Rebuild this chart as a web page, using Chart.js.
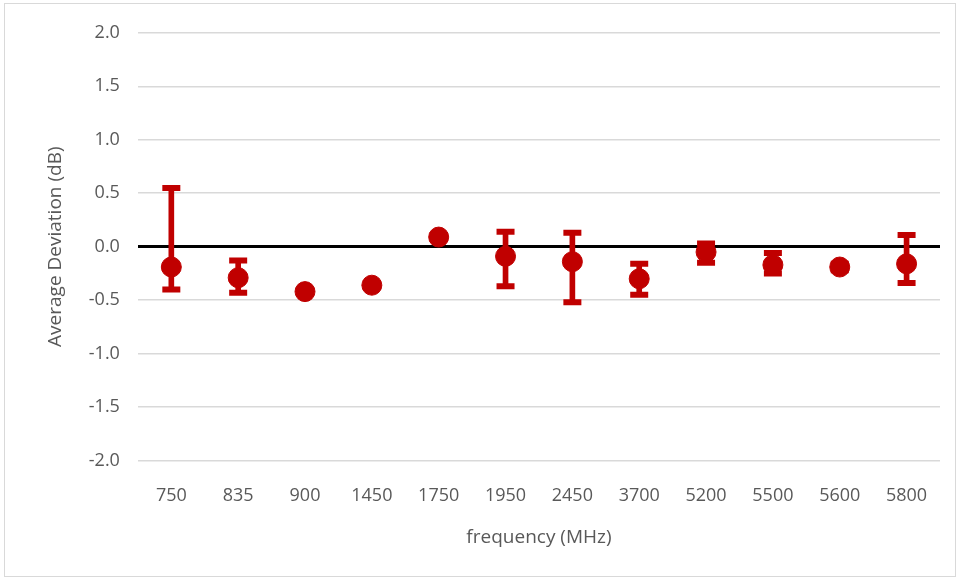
<!DOCTYPE html>
<html>
<head>
<meta charset="utf-8">
<script src="https://cdn.jsdelivr.net/npm/chart.js@4.4.1/dist/chart.umd.min.js"></script>
<style>
  body { margin: 0; background: #fff; }
  #wrap { position: absolute; left: 4px; top: 3px; width: 950px; height: 572px; border: 1px solid #d9d9d9; }
</style>
</head>
<body>
<div id="wrap"><canvas id="chart"></canvas></div>
<script>
var frequencies = ['750', '835', '900', '1450', '1750', '1950', '2450', '3700', '5200', '5500', '5600', '5800'];
var deviation = [-0.19, -0.29, -0.42, -0.36, 0.09, -0.09, -0.14, -0.30, -0.05, -0.17, -0.19, -0.16];
var errHigh = [0.55, -0.13, -0.41, -0.34, 0.11, 0.14, 0.13, -0.16, 0.03, -0.06, -0.16, 0.11];
var errLow = [-0.40, -0.43, -0.43, -0.38, 0.07, -0.37, -0.52, -0.45, -0.15, -0.25, -0.22, -0.34];
var yTicks = [2.0, 1.5, 1.0, 0.5, 0.0, -0.5, -1.0, -1.5, -2.0];

var red = '#c00000';
var font = { family: 'Open Sans', size: 18 };

var ctx = document.getElementById('chart').getContext('2d');
var myChart = new Chart(ctx, {
    data: {
        labels: frequencies,
        datasets: [{
            type: 'bar',
            data: frequencies.map(function(f, i) { return [errLow[i], errHigh[i]]; }),
            backgroundColor: red,
            barThickness: 5,
            order: 3
        }, {
            type: 'line',
            data: errHigh,
            showLine: false,
            pointStyle: 'line',
            pointRadius: 9,
            pointBorderWidth: 6,
            pointBorderColor: red,
            order: 2
        }, {
            type: 'line',
            data: errLow,
            showLine: false,
            pointStyle: 'line',
            pointRadius: 9,
            pointBorderWidth: 6,
            pointBorderColor: red,
            order: 2
        }, {
            type: 'line',
            data: deviation,
            showLine: false,
            pointStyle: 'circle',
            pointRadius: 10,
            pointBackgroundColor: red,
            pointBorderColor: red,
            pointBorderWidth: 1,
            order: 1
        }]
    },
    options: {
        responsive: true,
        maintainAspectRatio: false,
        animation: false,
        layout: { padding: { top: 15, right: 15, bottom: 23, left: 35 } },
        plugins: {
            legend: { display: false },
            tooltip: { enabled: false }
        },
        scales: {
            x: {
                grid: { display: false },
                border: { display: false },
                ticks: { color: '#595959', font: font, padding: 16, maxRotation: 0 },
                title: { display: true, text: 'frequency (MHz)', color: '#595959', font: { family: 'Open Sans', size: 19 }, padding: { top: 4 } }
            },
            y: {
                min: -2, max: 2,
                afterBuildTicks: function(axis) {
                    axis.ticks = yTicks.map(function(v) { return { value: v }; });
                },
                grid: {
                    drawTicks: false,
                    color: function(c) { return c.tick && c.tick.value === 0 ? '#000000' : '#d9d9d9'; },
                    lineWidth: function(c) { return c.tick && c.tick.value === 0 ? 3 : 1.5; }
                },
                border: { display: false },
                ticks: {
                    color: '#595959', font: font, padding: 18,
                    callback: function(v) { return Number(v).toFixed(1); }
                },
                title: { display: true, text: 'Average Deviation (dB)', color: '#595959', font: { family: 'Open Sans', size: 19 }, padding: { bottom: 4 } }
            }
        }
    }
});
</script>
</body>
</html>
